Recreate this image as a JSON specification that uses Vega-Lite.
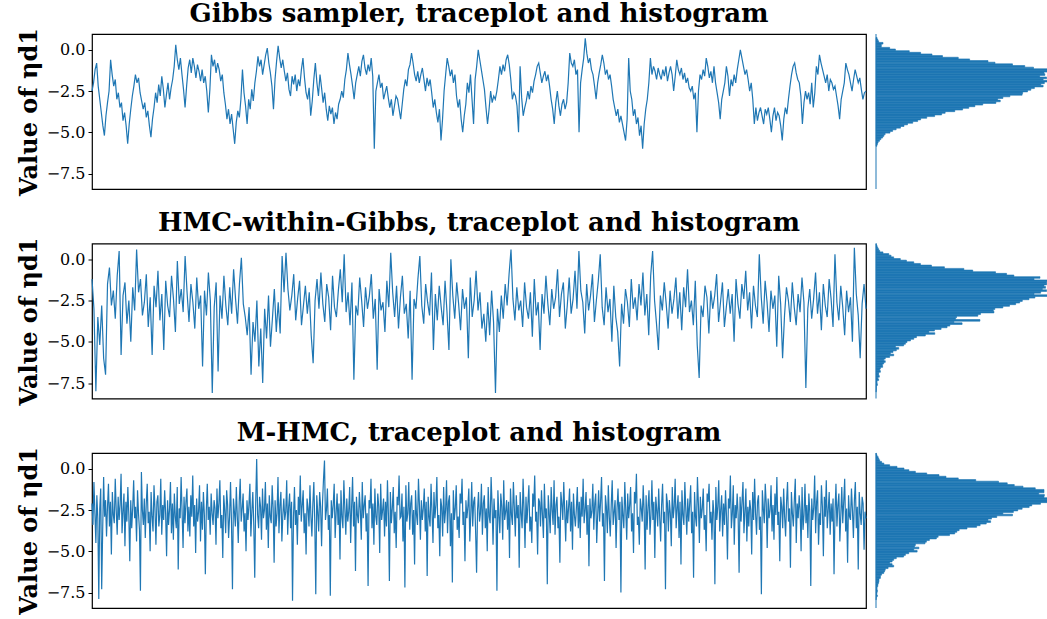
{
"$schema": "https://vega.github.io/schema/vega-lite/v6.json",
"background": "white",
"padding": {"left": 16, "top": 0, "right": 0, "bottom": 0},
"config": {
  "view": {"stroke": "black", "strokeWidth": 1.2},
  "axis": {"grid": false, "domain": false, "tickColor": "black", "tickSize": 4, "labelPadding": 3, "labelFont": "DejaVu Serif", "labelFontSize": 16, "labelColor": "black", "titleFont": "DejaVu Serif", "titleFontSize": 24, "titleFontWeight": "bold", "titleColor": "black", "titlePadding": 5},
  "title": {"font": "DejaVu Serif", "fontSize": 26, "fontWeight": "bold", "color": "black", "anchor": "middle", "baseline": "bottom", "offset": 1}
},
"spacing": 13.5,
"datasets": {
"gibbs": [
{"i":0,"v":-2.5},{"i":1,"v":-2.0},{"i":2,"v":-1.2},{"i":3,"v":-0.8},{"i":4,"v":-2.2},
{"i":5,"v":-3.0},{"i":6,"v":-3.8},{"i":7,"v":-4.6},{"i":8,"v":-5.2},{"i":9,"v":-4.0},{"i":10,"v":-3.2},{"i":11,"v":-2.5},
{"i":12,"v":-0.6},{"i":13,"v":-1.5},{"i":14,"v":-2.2},{"i":15,"v":-1.8},{"i":16,"v":-3.0},{"i":17,"v":-2.6},{"i":18,"v":-3.5},{"i":19,"v":-3.2},{"i":20,"v":-4.3},{"i":21,"v":-3.8},{"i":22,"v":-4.6},{"i":23,"v":-5.7},{"i":24,"v":-4.5},
{"i":25,"v":-3.6},{"i":26,"v":-2.8},{"i":27,"v":-2.2},{"i":28,"v":-1.5},{"i":29,"v":-2.0},{"i":30,"v":-1.7},{"i":31,"v":-2.6},
{"i":32,"v":-3.1},{"i":33,"v":-3.6},{"i":34,"v":-3.2},{"i":35,"v":-4.1},{"i":36,"v":-3.7},{"i":37,"v":-4.6},{"i":38,"v":-5.3},{"i":39,"v":-4.2},{"i":40,"v":-3.5},
{"i":41,"v":-2.6},{"i":42,"v":-3.2},{"i":43,"v":-2.1},{"i":44,"v":-2.8},{"i":45,"v":-1.6},{"i":46,"v":-2.4},{"i":47,"v":-3.5},{"i":48,"v":-2.7},{"i":49,"v":-2.0},{"i":50,"v":-3.0},{"i":51,"v":-2.3},{"i":52,"v":-1.8},{"i":53,"v":-1.0},
{"i":54,"v":0.3},{"i":55,"v":-0.6},{"i":56,"v":-1.2},{"i":57,"v":-0.5},{"i":58,"v":-1.5},{"i":59,"v":-2.4},{"i":60,"v":-3.5},{"i":61,"v":-2.2},{"i":62,"v":-1.1},{"i":63,"v":-0.6},{"i":64,"v":-1.4},{"i":65,"v":-0.5},{"i":66,"v":-1.0},{"i":67,"v":-1.7},{"i":68,"v":-0.9},{"i":69,"v":-1.3},
{"i":70,"v":-1.9},{"i":71,"v":-1.2},{"i":72,"v":-2.0},{"i":73,"v":-1.6},{"i":74,"v":-2.5},{"i":75,"v":-3.8},{"i":76,"v":-2.4},
{"i":77,"v":-0.3},{"i":78,"v":-1.0},{"i":79,"v":-0.6},{"i":80,"v":-1.4},{"i":81,"v":-0.8},{"i":82,"v":-1.2},{"i":83,"v":-1.9},{"i":84,"v":-1.5},{"i":85,"v":-2.6},{"i":86,"v":-3.3},
{"i":87,"v":-4.2},{"i":88,"v":-3.6},{"i":89,"v":-4.5},{"i":90,"v":-3.9},{"i":91,"v":-4.8},{"i":92,"v":-5.7},{"i":93,"v":-4.4},{"i":94,"v":-3.7},{"i":95,"v":-4.1},
{"i":96,"v":-3.0},{"i":97,"v":-1.2},{"i":98,"v":-2.6},{"i":99,"v":-3.4},{"i":100,"v":-4.5},{"i":101,"v":-3.0},{"i":102,"v":-3.6},{"i":103,"v":-2.4},{"i":104,"v":-3.1},{"i":105,"v":-2.0},
{"i":106,"v":-1.3},{"i":107,"v":-0.4},{"i":108,"v":-1.0},{"i":109,"v":-0.6},{"i":110,"v":-1.5},{"i":111,"v":-0.9},{"i":112,"v":-0.3},{"i":113,"v":0.1},{"i":114,"v":-0.8},{"i":115,"v":-1.4},{"i":116,"v":-2.2},{"i":117,"v":-3.6},{"i":118,"v":-1.8},{"i":119,"v":-0.7},{"i":120,"v":0.25},{"i":121,"v":-0.5},{"i":122,"v":-1.1},{"i":123,"v":-0.6},{"i":124,"v":-1.3},
{"i":125,"v":-1.9},{"i":126,"v":-1.4},{"i":127,"v":-2.4},{"i":128,"v":-2.8},{"i":129,"v":-1.6},{"i":130,"v":-2.1},{"i":131,"v":-1.5},{"i":132,"v":-2.5},{"i":133,"v":-1.8},{"i":134,"v":-2.2},
{"i":135,"v":-1.2},{"i":136,"v":-0.5},{"i":137,"v":-1.7},{"i":138,"v":-2.6},{"i":139,"v":-3.0},{"i":140,"v":-2.3},{"i":141,"v":-4.0},{"i":142,"v":-3.1},{"i":143,"v":-1.8},{"i":144,"v":-0.8},{"i":145,"v":-2.0},{"i":146,"v":-2.8},{"i":147,"v":-1.5},{"i":148,"v":-2.3},{"i":149,"v":-3.2},{"i":150,"v":-2.6},{"i":151,"v":-3.6},{"i":152,"v":-4.3},{"i":153,"v":-3.4},
{"i":154,"v":-3.9},{"i":155,"v":-3.5},{"i":156,"v":-4.5},{"i":157,"v":-3.8},{"i":158,"v":-4.2},{"i":159,"v":-3.3},{"i":160,"v":-3.0},{"i":161,"v":-2.5},{"i":162,"v":-2.9},{"i":163,"v":-1.8},
{"i":164,"v":-1.2},{"i":165,"v":-0.2},{"i":166,"v":-0.9},{"i":167,"v":-1.5},{"i":168,"v":-2.2},{"i":169,"v":-3.0},{"i":170,"v":-2.0},{"i":171,"v":-1.5},{"i":172,"v":-1.0},{"i":173,"v":-1.6},{"i":174,"v":-0.7},{"i":175,"v":-0.3},{"i":176,"v":-1.1},{"i":177,"v":-1.5},{"i":178,"v":-0.9},{"i":179,"v":-1.3},{"i":180,"v":-0.5},{"i":181,"v":-1.6},
{"i":182,"v":-6.0},
{"i":183,"v":-2.5},{"i":184,"v":-2.0},{"i":185,"v":-1.5},{"i":186,"v":-2.3},{"i":187,"v":-2.0},{"i":188,"v":-3.0},{"i":189,"v":-2.6},{"i":190,"v":-2.2},{"i":191,"v":-2.9},{"i":192,"v":-3.5},{"i":193,"v":-3.0},{"i":194,"v":-4.0},{"i":195,"v":-3.4},{"i":196,"v":-2.8},{"i":197,"v":-3.0},{"i":198,"v":-3.6},{"i":199,"v":-4.2},{"i":200,"v":-3.3},{"i":201,"v":-2.4},{"i":202,"v":-1.8},{"i":203,"v":-2.2},{"i":204,"v":-1.2},{"i":205,"v":-0.9},
{"i":206,"v":-0.2},{"i":207,"v":-0.8},{"i":208,"v":-1.5},{"i":209,"v":-1.9},{"i":210,"v":-1.3},{"i":211,"v":-2.0},{"i":212,"v":-1.5},{"i":213,"v":-1.1},{"i":214,"v":-1.8},{"i":215,"v":-2.5},{"i":216,"v":-1.7},{"i":217,"v":-2.2},{"i":218,"v":-1.8},
{"i":219,"v":-2.6},{"i":220,"v":-3.5},{"i":221,"v":-3.0},{"i":222,"v":-3.8},{"i":223,"v":-4.4},{"i":224,"v":-3.6},{"i":225,"v":-5.5},{"i":226,"v":-4.2},{"i":227,"v":-2.5},
{"i":228,"v":-1.5},{"i":229,"v":-0.5},{"i":230,"v":-1.0},{"i":231,"v":-1.6},{"i":232,"v":-1.2},{"i":233,"v":-2.0},{"i":234,"v":-1.5},
{"i":235,"v":-2.8},{"i":236,"v":-3.5},{"i":237,"v":-3.0},{"i":238,"v":-4.2},{"i":239,"v":-5.0},{"i":240,"v":-4.0},{"i":241,"v":-3.3},{"i":242,"v":-2.0},{"i":243,"v":-2.6},
{"i":244,"v":-1.5},{"i":245,"v":-3.0},{"i":246,"v":-4.5},{"i":247,"v":-1.8},{"i":248,"v":-1.0},{"i":249,"v":0.0},{"i":250,"v":-0.6},{"i":251,"v":-1.2},{"i":252,"v":-1.8},{"i":253,"v":-2.4},
{"i":254,"v":-3.5},{"i":255,"v":-4.5},{"i":256,"v":-3.6},{"i":257,"v":-2.5},{"i":258,"v":-3.2},{"i":259,"v":-2.8},{"i":260,"v":-3.0},{"i":261,"v":-2.5},{"i":262,"v":-1.8},{"i":263,"v":-1.0},
{"i":264,"v":-1.5},{"i":265,"v":-0.9},{"i":266,"v":-1.3},{"i":267,"v":-0.6},{"i":268,"v":-0.3},{"i":269,"v":-0.9},{"i":270,"v":-1.8},{"i":271,"v":-3.0},
{"i":272,"v":-2.6},{"i":273,"v":-2.8},{"i":274,"v":-3.4},{"i":275,"v":-5.0},{"i":276,"v":-1.0},{"i":277,"v":-2.9},{"i":278,"v":-4.0},{"i":279,"v":-3.5},{"i":280,"v":-3.1},{"i":281,"v":-2.5},{"i":282,"v":-3.0},{"i":283,"v":-2.2},{"i":284,"v":-2.6},{"i":285,"v":-1.9},
{"i":286,"v":-1.5},{"i":287,"v":-1.0},{"i":288,"v":-0.8},{"i":289,"v":-1.4},{"i":290,"v":-2.0},{"i":291,"v":-1.6},{"i":292,"v":-1.3},{"i":293,"v":-1.9},{"i":294,"v":-1.5},{"i":295,"v":-2.2},
{"i":296,"v":-3.0},{"i":297,"v":-3.6},{"i":298,"v":-4.5},{"i":299,"v":-3.2},{"i":300,"v":-2.5},{"i":301,"v":-3.4},{"i":302,"v":-4.0},{"i":303,"v":-3.3},{"i":304,"v":-3.0},{"i":305,"v":-3.6},{"i":306,"v":-3.2},{"i":307,"v":-2.0},
{"i":308,"v":-0.2},{"i":309,"v":-0.8},{"i":310,"v":-1.0},{"i":311,"v":-0.6},{"i":312,"v":-1.5},{"i":313,"v":-1.2},
{"i":314,"v":-5.0},
{"i":315,"v":-2.0},{"i":316,"v":-1.2},{"i":317,"v":-0.5},{"i":318,"v":0.7},{"i":319,"v":-0.2},{"i":320,"v":-0.8},{"i":321,"v":-0.5},{"i":322,"v":-1.2},{"i":323,"v":-1.5},{"i":324,"v":-2.2},{"i":325,"v":-3.0},{"i":326,"v":-2.0},{"i":327,"v":-1.4},{"i":328,"v":-0.9},{"i":329,"v":-0.3},{"i":330,"v":-0.8},{"i":331,"v":-1.5},{"i":332,"v":-1.2},{"i":333,"v":-1.8},{"i":334,"v":-1.5},{"i":335,"v":-2.2},
{"i":336,"v":-3.0},{"i":337,"v":-3.5},{"i":338,"v":-4.0},{"i":339,"v":-3.6},{"i":340,"v":-4.4},{"i":341,"v":-4.0},{"i":342,"v":-4.5},{"i":343,"v":-5.0},{"i":344,"v":-5.5},{"i":345,"v":-4.2},{"i":346,"v":-0.5},{"i":347,"v":-2.5},{"i":348,"v":-3.0},{"i":349,"v":-4.0},{"i":350,"v":-3.6},{"i":351,"v":-4.5},{"i":352,"v":-4.1},{"i":353,"v":-5.2},{"i":354,"v":-4.6},{"i":355,"v":-6.0},{"i":356,"v":-4.5},{"i":357,"v":-3.6},{"i":358,"v":-3.0},{"i":359,"v":-2.0},
{"i":360,"v":-0.5},{"i":361,"v":-1.5},{"i":362,"v":-1.0},{"i":363,"v":-1.3},{"i":364,"v":-1.8},{"i":365,"v":-1.1},{"i":366,"v":-1.5},{"i":367,"v":-1.8},{"i":368,"v":-1.2},{"i":369,"v":-1.6},{"i":370,"v":-1.0},{"i":371,"v":-1.9},{"i":372,"v":-1.4},{"i":373,"v":-1.0},{"i":374,"v":-1.5},{"i":375,"v":-2.5},{"i":376,"v":-1.6},{"i":377,"v":-0.6},{"i":378,"v":-1.2},{"i":379,"v":-1.5},{"i":380,"v":-1.1},{"i":381,"v":-1.8},{"i":382,"v":-1.4},{"i":383,"v":-2.0},{"i":384,"v":-1.7},{"i":385,"v":-2.3},
{"i":386,"v":-2.5},{"i":387,"v":-2.2},{"i":388,"v":-3.0},{"i":389,"v":-2.6},{"i":390,"v":-5.0},{"i":391,"v":-2.5},{"i":392,"v":-1.5},
{"i":393,"v":-1.8},{"i":394,"v":-1.2},{"i":395,"v":-1.6},{"i":396,"v":-0.5},{"i":397,"v":-1.0},{"i":398,"v":-1.7},{"i":399,"v":-1.3},{"i":400,"v":-2.0},{"i":401,"v":-1.0},
{"i":402,"v":-2.0},{"i":403,"v":-2.6},{"i":404,"v":-3.2},{"i":405,"v":-4.2},{"i":406,"v":-3.0},{"i":407,"v":-2.5},{"i":408,"v":-2.0},
{"i":409,"v":-1.0},{"i":410,"v":-1.6},{"i":411,"v":-2.8},{"i":412,"v":-1.8},{"i":413,"v":-2.2},{"i":414,"v":-1.5},{"i":415,"v":-2.0},{"i":416,"v":-1.2},{"i":417,"v":-0.6},{"i":418,"v":0.0},{"i":419,"v":-0.5},{"i":420,"v":-1.0},{"i":421,"v":-1.5},{"i":422,"v":-1.2},{"i":423,"v":-1.8},{"i":424,"v":-2.5},
{"i":425,"v":-2.0},{"i":426,"v":-3.0},{"i":427,"v":-4.5},{"i":428,"v":-3.5},{"i":429,"v":-4.3},{"i":430,"v":-3.8},{"i":431,"v":-3.5},{"i":432,"v":-4.0},{"i":433,"v":-4.5},{"i":434,"v":-3.6},{"i":435,"v":-3.9},{"i":436,"v":-3.5},{"i":437,"v":-4.2},{"i":438,"v":-5.0},{"i":439,"v":-4.0},{"i":440,"v":-3.5},{"i":441,"v":-4.3},{"i":442,"v":-3.8},{"i":443,"v":-4.0},{"i":444,"v":-4.6},{"i":445,"v":-5.5},{"i":446,"v":-4.2},{"i":447,"v":-3.5},{"i":448,"v":-3.9},{"i":449,"v":-3.0},{"i":450,"v":-2.2},
{"i":451,"v":-1.5},{"i":452,"v":-1.0},{"i":453,"v":-0.8},{"i":454,"v":-1.4},{"i":455,"v":-1.8},{"i":456,"v":-2.0},
{"i":457,"v":-2.8},{"i":458,"v":-4.5},{"i":459,"v":-3.2},{"i":460,"v":-2.5},{"i":461,"v":-3.0},{"i":462,"v":-2.6},{"i":463,"v":-3.3},{"i":464,"v":-2.0},{"i":465,"v":-3.5},{"i":466,"v":-2.6},
{"i":467,"v":-1.0},{"i":468,"v":-1.5},{"i":469,"v":-0.3},{"i":470,"v":-0.8},{"i":471,"v":-1.2},{"i":472,"v":-1.6},{"i":473,"v":-2.0},{"i":474,"v":-1.5},{"i":475,"v":-2.5},{"i":476,"v":-1.8},{"i":477,"v":-2.0},{"i":478,"v":-2.4},{"i":479,"v":-2.2},
{"i":480,"v":-2.8},{"i":481,"v":-3.4},{"i":482,"v":-4.2},{"i":483,"v":-3.0},{"i":484,"v":-2.5},{"i":485,"v":-2.0},
{"i":486,"v":-0.8},{"i":487,"v":-1.2},{"i":488,"v":-1.5},{"i":489,"v":-2.0},{"i":490,"v":-2.5},{"i":491,"v":-1.8},{"i":492,"v":-1.2},{"i":493,"v":-1.6},{"i":494,"v":-2.0},{"i":495,"v":-1.7},{"i":496,"v":-2.4},{"i":497,"v":-3.0},{"i":498,"v":-2.6},{"i":499,"v":-2.5}
],
"hwg": [
{"i":0,"v":-1.2},{"i":1,"v":-3.0},{"i":2,"v":-8.0},{"i":3,"v":-3.5},{"i":4,"v":-5.2},{"i":5,"v":-2.8},{"i":6,"v":-6.0},{"i":7,"v":-7.0},{"i":8,"v":-1.5},{"i":9,"v":-0.5},
{"i":10,"v":-2.8},{"i":11,"v":-1.9},{"i":12,"v":-3.6},{"i":13,"v":-1.0},{"i":14,"v":0.5},{"i":15,"v":-5.8},{"i":16,"v":-2.2},{"i":17,"v":-1.4},{"i":18,"v":-3.9},{"i":19,"v":-2.5},
{"i":20,"v":-5.0},{"i":21,"v":-1.7},{"i":22,"v":-3.1},{"i":23,"v":0.6},{"i":24,"v":-2.0},{"i":25,"v":-1.2},{"i":26,"v":-3.4},{"i":27,"v":-2.6},{"i":28,"v":-0.9},{"i":29,"v":-4.1},
{"i":30,"v":-2.3},{"i":31,"v":-5.8},{"i":32,"v":-1.6},{"i":33,"v":-2.9},{"i":34,"v":-0.7},{"i":35,"v":-3.7},{"i":36,"v":-2.1},{"i":37,"v":-5.5},{"i":38,"v":-1.3},{"i":39,"v":-2.8},
{"i":40,"v":-3.5},{"i":41,"v":-1.0},{"i":42,"v":-2.4},{"i":43,"v":-4.4},{"i":44,"v":-0.1},{"i":45,"v":-2.7},{"i":46,"v":-1.8},{"i":47,"v":-3.2},{"i":48,"v":0.2},{"i":49,"v":-2.0},
{"i":50,"v":-3.8},{"i":51,"v":-1.5},{"i":52,"v":-2.6},{"i":53,"v":-4.2},{"i":54,"v":-1.1},{"i":55,"v":-3.0},{"i":56,"v":-2.2},{"i":57,"v":-6.5},{"i":58,"v":-1.9},{"i":59,"v":-3.4},
{"i":60,"v":-0.8},{"i":61,"v":-2.5},{"i":62,"v":-8.1},{"i":63,"v":-2.9},{"i":64,"v":-1.4},{"i":65,"v":-6.8},{"i":66,"v":-2.2},{"i":67,"v":-3.6},{"i":68,"v":-1.0},{"i":69,"v":-2.8},
{"i":70,"v":-4.0},{"i":71,"v":-1.7},{"i":72,"v":-3.3},{"i":73,"v":-0.6},{"i":74,"v":-2.4},{"i":75,"v":-3.9},{"i":76,"v":-1.5},{"i":77,"v":0.1},{"i":78,"v":-2.7},{"i":79,"v":-3.5},
{"i":80,"v":-4.6},{"i":81,"v":-2.9},{"i":82,"v":-7.0},{"i":83,"v":-3.8},{"i":84,"v":-5.0},{"i":85,"v":-2.5},{"i":86,"v":-6.5},{"i":87,"v":-4.2},{"i":88,"v":-7.5},{"i":89,"v":-3.0},
{"i":90,"v":-4.8},{"i":91,"v":-2.2},{"i":92,"v":-5.3},{"i":93,"v":-3.6},{"i":94,"v":-1.8},{"i":95,"v":-4.4},{"i":96,"v":-2.6},{"i":97,"v":-4.5},{"i":98,"v":0.2},{"i":99,"v":-2.0},
{"i":100,"v":0.4},{"i":101,"v":-1.8},{"i":102,"v":-3.1},{"i":103,"v":-2.2},{"i":104,"v":-0.9},{"i":105,"v":-3.7},{"i":106,"v":-2.4},{"i":107,"v":-1.3},{"i":108,"v":-4.0},{"i":109,"v":-2.8},
{"i":110,"v":-1.6},{"i":111,"v":-3.3},{"i":112,"v":-2.0},{"i":113,"v":-4.6},{"i":114,"v":-6.3},{"i":115,"v":-2.5},{"i":116,"v":-1.2},{"i":117,"v":-3.0},{"i":118,"v":-0.8},{"i":119,"v":-2.7},
{"i":120,"v":-3.8},{"i":121,"v":-1.5},{"i":122,"v":-2.3},{"i":123,"v":-4.3},{"i":124,"v":-1.0},{"i":125,"v":-2.9},{"i":126,"v":-3.5},{"i":127,"v":-1.9},{"i":128,"v":-0.6},{"i":129,"v":-2.6},
{"i":130,"v":0.3},{"i":131,"v":-3.2},{"i":132,"v":-2.0},{"i":133,"v":-4.0},{"i":134,"v":-1.4},{"i":135,"v":-7.3},{"i":136,"v":-2.8},{"i":137,"v":-3.4},{"i":138,"v":-1.1},{"i":139,"v":-2.5},
{"i":140,"v":-4.1},{"i":141,"v":-1.7},{"i":142,"v":-3.0},{"i":143,"v":-2.2},{"i":144,"v":-0.9},{"i":145,"v":-3.6},{"i":146,"v":-2.4},{"i":147,"v":-6.7},{"i":148,"v":-1.8},{"i":149,"v":-3.1},
{"i":150,"v":-2.6},{"i":151,"v":-4.4},{"i":152,"v":-1.3},{"i":153,"v":-2.9},{"i":154,"v":0.4},{"i":155,"v":-2.0},{"i":156,"v":-3.5},{"i":157,"v":-1.6},{"i":158,"v":-4.2},{"i":159,"v":-2.3},
{"i":160,"v":-1.0},{"i":161,"v":-3.3},{"i":162,"v":-2.7},{"i":163,"v":-4.8},{"i":164,"v":-1.9},{"i":165,"v":-7.3},{"i":166,"v":-2.4},{"i":167,"v":-3.0},{"i":168,"v":-1.2},{"i":169,"v":0.2},
{"i":170,"v":-2.8},{"i":171,"v":-3.9},{"i":172,"v":-1.5},{"i":173,"v":-2.6},{"i":174,"v":-3.4},{"i":175,"v":-0.8},{"i":176,"v":-5.5},{"i":177,"v":-2.1},{"i":178,"v":-3.7},{"i":179,"v":-1.6},
{"i":180,"v":-2.9},{"i":181,"v":-4.0},{"i":182,"v":-1.3},{"i":183,"v":-3.2},{"i":184,"v":-5.5},{"i":185,"v":0.0},{"i":186,"v":-2.2},{"i":187,"v":-3.6},{"i":188,"v":-1.4},{"i":189,"v":-2.7},
{"i":190,"v":-4.3},{"i":191,"v":-1.8},{"i":192,"v":-3.0},{"i":193,"v":-2.3},{"i":194,"v":-6.0},{"i":195,"v":-1.1},{"i":196,"v":-3.5},{"i":197,"v":-2.5},{"i":198,"v":-0.7},{"i":199,"v":-3.1},
{"i":200,"v":-2.0},{"i":201,"v":-4.2},{"i":202,"v":-3.3},{"i":203,"v":-5.0},{"i":204,"v":-2.6},{"i":205,"v":-4.6},{"i":206,"v":-1.9},{"i":207,"v":-3.8},{"i":208,"v":-8.1},{"i":209,"v":-3.0},
{"i":210,"v":-4.4},{"i":211,"v":-2.2},{"i":212,"v":-3.6},{"i":213,"v":-1.5},{"i":214,"v":-2.8},{"i":215,"v":-0.9},{"i":216,"v":0.6},{"i":217,"v":-2.4},{"i":218,"v":-3.7},{"i":219,"v":-1.7},
{"i":220,"v":-3.1},{"i":221,"v":-2.5},{"i":222,"v":-4.1},{"i":223,"v":-1.4},{"i":224,"v":-2.9},{"i":225,"v":-3.6},{"i":226,"v":-2.0},{"i":227,"v":-4.7},{"i":228,"v":-1.2},{"i":229,"v":-3.4},
{"i":230,"v":-2.6},{"i":231,"v":-5.5},{"i":232,"v":-2.1},{"i":233,"v":-3.3},{"i":234,"v":-1.0},{"i":235,"v":-2.7},{"i":236,"v":-4.0},{"i":237,"v":-1.8},{"i":238,"v":-3.0},{"i":239,"v":-2.3},
{"i":240,"v":-0.6},{"i":241,"v":-3.5},{"i":242,"v":-2.1},{"i":243,"v":-1.4},{"i":244,"v":-4.2},{"i":245,"v":-2.8},{"i":246,"v":-1.1},{"i":247,"v":-3.3},{"i":248,"v":-2.4},{"i":249,"v":-0.7},
{"i":250,"v":-3.0},{"i":251,"v":0.5},{"i":252,"v":-1.9},{"i":253,"v":-2.6},{"i":254,"v":-4.5},{"i":255,"v":-1.5},{"i":256,"v":-3.1},{"i":257,"v":-2.2},{"i":258,"v":-0.9},{"i":259,"v":-3.8},
{"i":260,"v":-2.5},{"i":261,"v":-1.3},{"i":262,"v":0.3},{"i":263,"v":-2.9},{"i":264,"v":-4.0},{"i":265,"v":-1.7},{"i":266,"v":-3.2},{"i":267,"v":-2.4},{"i":268,"v":-5.0},{"i":269,"v":-1.6},
{"i":270,"v":-3.5},{"i":271,"v":-4.4},{"i":272,"v":-6.5},{"i":273,"v":-2.7},{"i":274,"v":-3.9},{"i":275,"v":-1.8},{"i":276,"v":-2.6},{"i":277,"v":-4.1},{"i":278,"v":-1.2},{"i":279,"v":-3.0},
{"i":280,"v":-2.3},{"i":281,"v":-3.7},{"i":282,"v":-1.5},{"i":283,"v":-2.8},{"i":284,"v":-0.8},{"i":285,"v":-3.4},{"i":286,"v":-2.1},{"i":287,"v":-4.6},{"i":288,"v":-1.0},{"i":289,"v":0.5},
{"i":290,"v":-2.5},{"i":291,"v":-3.9},{"i":292,"v":-5.5},{"i":293,"v":-2.2},{"i":294,"v":-3.1},{"i":295,"v":-1.4},{"i":296,"v":-2.7},{"i":297,"v":-4.2},{"i":298,"v":-1.9},{"i":299,"v":-3.3},
{"i":300,"v":-2.4},{"i":301,"v":-1.1},{"i":302,"v":-3.6},{"i":303,"v":-2.0},{"i":304,"v":-4.3},{"i":305,"v":-1.7},{"i":306,"v":-2.9},{"i":307,"v":-0.6},{"i":308,"v":-3.2},{"i":309,"v":-2.5},
{"i":310,"v":-4.0},{"i":311,"v":-1.3},{"i":312,"v":-5.2},{"i":313,"v":-7.2},{"i":314,"v":-2.8},{"i":315,"v":-3.5},{"i":316,"v":-1.6},{"i":317,"v":-2.3},{"i":318,"v":-4.5},{"i":319,"v":-1.9},
{"i":320,"v":-3.0},{"i":321,"v":-2.2},{"i":322,"v":-0.9},{"i":323,"v":-3.8},{"i":324,"v":-2.6},{"i":325,"v":-1.4},{"i":326,"v":-4.1},{"i":327,"v":-2.9},{"i":328,"v":-1.8},{"i":329,"v":-3.3},
{"i":330,"v":-2.1},{"i":331,"v":-5.0},{"i":332,"v":-1.2},{"i":333,"v":-2.7},{"i":334,"v":-3.6},{"i":335,"v":-1.5},{"i":336,"v":-2.4},{"i":337,"v":-0.7},{"i":338,"v":-3.1},{"i":339,"v":-2.0},
{"i":340,"v":-4.2},{"i":341,"v":-1.6},{"i":342,"v":-2.8},{"i":343,"v":-3.5},{"i":344,"v":0.3},{"i":345,"v":-2.3},{"i":346,"v":-3.9},{"i":347,"v":-1.3},{"i":348,"v":-2.6},{"i":349,"v":-4.4},
{"i":350,"v":-1.9},{"i":351,"v":-3.0},{"i":352,"v":-2.2},{"i":353,"v":-5.3},{"i":354,"v":-1.0},{"i":355,"v":-2.7},{"i":356,"v":-6.0},{"i":357,"v":-3.4},{"i":358,"v":-1.7},{"i":359,"v":-2.5},
{"i":360,"v":-3.8},{"i":361,"v":-1.4},{"i":362,"v":-2.9},{"i":363,"v":-4.0},{"i":364,"v":-2.1},{"i":365,"v":-3.2},{"i":366,"v":-1.1},{"i":367,"v":-2.6},{"i":368,"v":-7.8},{"i":369,"v":-3.0},
{"i":370,"v":-1.8},{"i":371,"v":-3.6},{"i":372,"v":-2.4},{"i":373,"v":-0.8},{"i":374,"v":-3.3},{"i":375,"v":-2.0},{"i":376,"v":-4.3},{"i":377,"v":-1.5},{"i":378,"v":-2.8},{"i":379,"v":-3.5},
{"i":380,"v":-1.2},{"i":381,"v":-2.4},{"i":382,"v":-4.1},{"i":383,"v":0.3},{"i":384,"v":-2.6},{"i":385,"v":-3.7},{"i":386,"v":-1.6},{"i":387,"v":-2.9},{"i":388,"v":-4.6},{"i":389,"v":-1.9},
{"i":390,"v":-3.2},{"i":391,"v":-2.3},{"i":392,"v":-5.0},{"i":393,"v":0.7},{"i":394,"v":-2.1},{"i":395,"v":-3.4},{"i":396,"v":-6.0},{"i":397,"v":-2.7},{"i":398,"v":-1.5},{"i":399,"v":-3.0}
],
"mhmc": [
{"i":0,"v":-2.1},{"i":1,"v":-3.4},{"i":2,"v":-0.8},{"i":3,"v":-2.7},{"i":4,"v":-4.5},{"i":5,"v":-1.6},{"i":6,"v":-3.0},{"i":7,"v":-7.9},{"i":8,"v":-2.4},{"i":9,"v":-1.2},
{"i":10,"v":-7.3},{"i":11,"v":-3.8},{"i":12,"v":-0.5},{"i":13,"v":-2.9},{"i":14,"v":-1.9},{"i":15,"v":-4.1},{"i":16,"v":-2.3},{"i":17,"v":-0.9},{"i":18,"v":-3.5},{"i":19,"v":-2.0},
{"i":20,"v":-5.2},{"i":21,"v":-1.4},{"i":22,"v":-2.8},{"i":23,"v":-3.3},{"i":24,"v":-0.6},{"i":25,"v":-2.5},{"i":26,"v":-4.0},{"i":27,"v":-1.7},{"i":28,"v":-3.1},{"i":29,"v":-2.2},
{"i":30,"v":-0.3},{"i":31,"v":-3.9},{"i":32,"v":-2.6},{"i":33,"v":-1.5},{"i":34,"v":-4.7},{"i":35,"v":-2.0},{"i":36,"v":-3.2},{"i":37,"v":-1.1},{"i":38,"v":-2.8},{"i":39,"v":-5.6},
{"i":40,"v":-1.9},{"i":41,"v":-3.6},{"i":42,"v":-2.4},{"i":43,"v":-0.7},{"i":44,"v":-3.0},{"i":45,"v":-2.3},{"i":46,"v":-4.4},{"i":47,"v":-1.3},{"i":48,"v":-2.7},{"i":49,"v":-3.7},
{"i":50,"v":-7.4},{"i":51,"v":-0.2},{"i":52,"v":-2.5},{"i":53,"v":-3.4},{"i":54,"v":-1.8},{"i":55,"v":-4.2},{"i":56,"v":-2.1},{"i":57,"v":-0.9},{"i":58,"v":-3.3},{"i":59,"v":-2.6},
{"i":60,"v":-5.0},{"i":61,"v":-1.4},{"i":62,"v":-2.9},{"i":63,"v":-3.8},{"i":64,"v":-1.0},{"i":65,"v":-2.4},{"i":66,"v":-4.6},{"i":67,"v":-2.0},{"i":68,"v":-1.6},{"i":69,"v":-3.5},
{"i":70,"v":-2.8},{"i":71,"v":-0.6},{"i":72,"v":-4.0},{"i":73,"v":-2.2},{"i":74,"v":-3.1},{"i":75,"v":-1.3},{"i":76,"v":-2.7},{"i":77,"v":-5.3},{"i":78,"v":-1.9},{"i":79,"v":-3.4},
{"i":80,"v":-2.5},{"i":81,"v":-0.8},{"i":82,"v":-3.9},{"i":83,"v":-2.1},{"i":84,"v":-4.3},{"i":85,"v":-1.5},{"i":86,"v":-2.9},{"i":87,"v":-3.6},{"i":88,"v":-1.1},{"i":89,"v":-6.1},
{"i":90,"v":-2.4},{"i":91,"v":-3.0},{"i":92,"v":-0.5},{"i":93,"v":-2.6},{"i":94,"v":-4.8},{"i":95,"v":-1.7},{"i":96,"v":-3.3},{"i":97,"v":-2.0},{"i":98,"v":-1.2},{"i":99,"v":-3.8},
{"i":100,"v":-2.3},{"i":101,"v":-4.1},{"i":102,"v":-1.6},{"i":103,"v":-2.9},{"i":104,"v":-0.4},{"i":105,"v":-3.5},{"i":106,"v":-2.2},{"i":107,"v":-5.1},{"i":108,"v":-1.8},{"i":109,"v":-3.2},
{"i":110,"v":-2.6},{"i":111,"v":-1.0},{"i":112,"v":-4.4},{"i":113,"v":-2.0},{"i":114,"v":-3.7},{"i":115,"v":-1.4},{"i":116,"v":-2.8},{"i":117,"v":-6.4},{"i":118,"v":-2.5},{"i":119,"v":-0.9},
{"i":120,"v":-3.1},{"i":121,"v":-2.3},{"i":122,"v":-4.0},{"i":123,"v":-1.5},{"i":124,"v":-2.7},{"i":125,"v":-3.4},{"i":126,"v":-1.9},{"i":127,"v":-2.4},{"i":128,"v":-4.6},{"i":129,"v":-1.2},
{"i":130,"v":-3.0},{"i":131,"v":-2.1},{"i":132,"v":-0.7},{"i":133,"v":-3.6},{"i":134,"v":-2.8},{"i":135,"v":-5.4},{"i":136,"v":-1.6},{"i":137,"v":-2.5},{"i":138,"v":-3.9},{"i":139,"v":-1.3},
{"i":140,"v":-2.2},{"i":141,"v":-4.2},{"i":142,"v":-2.9},{"i":143,"v":-0.8},{"i":144,"v":-3.3},{"i":145,"v":-7.3},{"i":146,"v":-1.8},{"i":147,"v":-2.6},{"i":148,"v":-3.5},{"i":149,"v":-1.1},
{"i":150,"v":-2.9},{"i":151,"v":-4.5},{"i":152,"v":-2.0},{"i":153,"v":-0.6},{"i":154,"v":-3.2},{"i":155,"v":-2.4},{"i":156,"v":-1.5},{"i":157,"v":-3.8},{"i":158,"v":-2.7},{"i":159,"v":-5.0},
{"i":160,"v":-1.9},{"i":161,"v":-3.1},{"i":162,"v":-2.2},{"i":163,"v":-0.9},{"i":164,"v":-4.1},{"i":165,"v":-2.6},{"i":166,"v":-1.4},{"i":167,"v":-3.4},{"i":168,"v":-6.6},{"i":169,"v":-2.0},
{"i":170,"v":0.6},{"i":171,"v":-2.8},{"i":172,"v":-3.6},{"i":173,"v":-1.7},{"i":174,"v":-2.3},{"i":175,"v":-4.3},{"i":176,"v":-1.2},{"i":177,"v":-3.0},{"i":178,"v":-2.5},{"i":179,"v":-0.8},
{"i":180,"v":-3.7},{"i":181,"v":-2.1},{"i":182,"v":-4.8},{"i":183,"v":-1.6},{"i":184,"v":-2.9},{"i":185,"v":-3.3},{"i":186,"v":-1.0},{"i":187,"v":-2.4},{"i":188,"v":-5.7},{"i":189,"v":-1.9},
{"i":190,"v":-3.5},{"i":191,"v":-2.7},{"i":192,"v":-0.5},{"i":193,"v":-3.9},{"i":194,"v":-2.2},{"i":195,"v":-1.4},{"i":196,"v":-4.4},{"i":197,"v":-2.8},{"i":198,"v":-1.8},{"i":199,"v":-3.1},
{"i":200,"v":-2.6},{"i":201,"v":-0.7},{"i":202,"v":-4.0},{"i":203,"v":-2.3},{"i":204,"v":-1.5},{"i":205,"v":-3.6},{"i":206,"v":-2.0},{"i":207,"v":-8.0},{"i":208,"v":-2.9},{"i":209,"v":-1.1},
{"i":210,"v":-3.4},{"i":211,"v":-2.5},{"i":212,"v":-4.6},{"i":213,"v":-1.7},{"i":214,"v":-2.8},{"i":215,"v":-0.4},{"i":216,"v":-3.2},{"i":217,"v":-2.2},{"i":218,"v":-1.3},{"i":219,"v":-3.9},
{"i":220,"v":-2.7},{"i":221,"v":-5.2},{"i":222,"v":-1.8},{"i":223,"v":-2.4},{"i":224,"v":-3.5},{"i":225,"v":-1.0},{"i":226,"v":-2.9},{"i":227,"v":-4.1},{"i":228,"v":-2.1},{"i":229,"v":-0.8},
{"i":230,"v":-3.3},{"i":231,"v":-7.6},{"i":232,"v":-1.6},{"i":233,"v":-2.6},{"i":234,"v":-3.8},{"i":235,"v":-1.4},{"i":236,"v":-2.3},{"i":237,"v":-4.7},{"i":238,"v":-2.0},{"i":239,"v":-0.6},
{"i":240,"v":0.5},{"i":241,"v":-3.1},{"i":242,"v":-2.5},{"i":243,"v":-1.2},{"i":244,"v":-3.7},{"i":245,"v":-2.8},{"i":246,"v":-7.7},{"i":247,"v":-1.9},{"i":248,"v":-3.0},{"i":249,"v":-2.2},
{"i":250,"v":-0.9},{"i":251,"v":-4.2},{"i":252,"v":-2.7},{"i":253,"v":-1.5},{"i":254,"v":-3.4},{"i":255,"v":-2.1},{"i":256,"v":-5.5},{"i":257,"v":-1.3},{"i":258,"v":-2.9},{"i":259,"v":-3.6},
{"i":260,"v":-0.7},{"i":261,"v":-2.4},{"i":262,"v":-4.0},{"i":263,"v":-1.8},{"i":264,"v":-3.2},{"i":265,"v":-2.6},{"i":266,"v":-1.1},{"i":267,"v":-4.5},{"i":268,"v":-2.3},{"i":269,"v":-0.5},
{"i":270,"v":-3.5},{"i":271,"v":-2.0},{"i":272,"v":-6.2},{"i":273,"v":-1.7},{"i":274,"v":-2.8},{"i":275,"v":-3.3},{"i":276,"v":-1.4},{"i":277,"v":-2.5},{"i":278,"v":-4.3},{"i":279,"v":-0.8},
{"i":280,"v":-3.0},{"i":281,"v":-2.2},{"i":282,"v":-1.6},{"i":283,"v":-3.8},{"i":284,"v":-2.7},{"i":285,"v":-7.1},{"i":286,"v":-1.9},{"i":287,"v":-2.4},{"i":288,"v":-0.6},{"i":289,"v":-3.6},
{"i":290,"v":-2.1},{"i":291,"v":-4.6},{"i":292,"v":-1.2},{"i":293,"v":-2.9},{"i":294,"v":-3.4},{"i":295,"v":-1.5},{"i":296,"v":-2.3},{"i":297,"v":-5.1},{"i":298,"v":-0.9},{"i":299,"v":-3.1},
{"i":300,"v":-2.5},{"i":301,"v":-1.8},{"i":302,"v":-4.1},{"i":303,"v":-2.0},{"i":304,"v":-3.5},{"i":305,"v":-0.7},{"i":306,"v":-2.8},{"i":307,"v":-6.8},{"i":308,"v":-1.4},{"i":309,"v":-3.3},
{"i":310,"v":-2.4},{"i":311,"v":-1.1},{"i":312,"v":-3.9},{"i":313,"v":-2.6},{"i":314,"v":-4.8},{"i":315,"v":-1.7},{"i":316,"v":-2.2},{"i":317,"v":-0.4},{"i":318,"v":-3.0},{"i":319,"v":-2.9},
{"i":320,"v":-1.5},{"i":321,"v":-4.4},{"i":322,"v":-2.3},{"i":323,"v":-7.2},{"i":324,"v":-1.0},{"i":325,"v":-3.2},{"i":326,"v":-2.7},{"i":327,"v":-0.8},{"i":328,"v":-3.7},{"i":329,"v":-2.1},
{"i":330,"v":-1.6},{"i":331,"v":-4.0},{"i":332,"v":-2.5},{"i":333,"v":-5.8},{"i":334,"v":-1.3},{"i":335,"v":-2.8},{"i":336,"v":-3.4},{"i":337,"v":-0.6},{"i":338,"v":-2.2},{"i":339,"v":-4.3},
{"i":340,"v":-1.9},{"i":341,"v":-3.1},{"i":342,"v":-2.4},{"i":343,"v":-1.2},{"i":344,"v":-3.8},{"i":345,"v":-2.0},{"i":346,"v":-6.5},{"i":347,"v":-1.7},{"i":348,"v":-2.9},{"i":349,"v":-3.5},
{"i":350,"v":-0.9},{"i":351,"v":-2.6},{"i":352,"v":-4.5},{"i":353,"v":-1.4},{"i":354,"v":-3.0},{"i":355,"v":-2.2},{"i":356,"v":-0.5},{"i":357,"v":-3.6},{"i":358,"v":-2.8},{"i":359,"v":-5.3},
{"i":360,"v":-1.8},{"i":361,"v":-2.3},{"i":362,"v":-4.1},{"i":363,"v":-1.1},{"i":364,"v":-3.3},{"i":365,"v":-2.5},{"i":366,"v":-0.7},{"i":367,"v":-3.9},{"i":368,"v":-2.0},{"i":369,"v":-1.6},
{"i":370,"v":-4.7},{"i":371,"v":-2.7},{"i":372,"v":-6.9},{"i":373,"v":-1.3},{"i":374,"v":-3.1},{"i":375,"v":-2.4},{"i":376,"v":-1.0},{"i":377,"v":-3.7},{"i":378,"v":-2.9},{"i":379,"v":-4.2},
{"i":380,"v":-1.5},{"i":381,"v":-2.1},{"i":382,"v":-0.6},{"i":383,"v":-3.4},{"i":384,"v":-2.6},{"i":385,"v":-5.6},{"i":386,"v":-1.9},{"i":387,"v":-3.0},{"i":388,"v":-2.3},{"i":389,"v":-1.2},
{"i":390,"v":-4.4},{"i":391,"v":-2.8},{"i":392,"v":-0.8},{"i":393,"v":-3.5},{"i":394,"v":-2.0},{"i":395,"v":-1.7},{"i":396,"v":-3.8},{"i":397,"v":-6.3},{"i":398,"v":-2.5},{"i":399,"v":-1.4},
{"i":400,"v":-3.2},{"i":401,"v":-2.7},{"i":402,"v":-0.9},{"i":403,"v":-4.0},{"i":404,"v":-2.1},{"i":405,"v":-1.6},{"i":406,"v":-3.6},{"i":407,"v":-2.4},{"i":408,"v":-5.0},{"i":409,"v":-1.1},
{"i":410,"v":-2.9},{"i":411,"v":-3.3},{"i":412,"v":-0.5},{"i":413,"v":-2.2},{"i":414,"v":-4.6},{"i":415,"v":-1.8},{"i":416,"v":-3.0},{"i":417,"v":-2.5},{"i":418,"v":-7.4},{"i":419,"v":-1.3},
{"i":420,"v":-2.8},{"i":421,"v":-3.9},{"i":422,"v":-1.5},{"i":423,"v":-2.3},{"i":424,"v":-4.3},{"i":425,"v":-0.7},{"i":426,"v":-3.1},{"i":427,"v":-2.6},{"i":428,"v":-1.9},{"i":429,"v":-3.7},
{"i":430,"v":-2.0},{"i":431,"v":-5.4},{"i":432,"v":-1.2},{"i":433,"v":-2.8},{"i":434,"v":-3.4},{"i":435,"v":-0.8},{"i":436,"v":-2.4},{"i":437,"v":-4.1},{"i":438,"v":-1.6},{"i":439,"v":-3.0},
{"i":440,"v":-2.2},{"i":441,"v":-6.0},{"i":442,"v":-1.4},{"i":443,"v":-2.7},{"i":444,"v":-3.6},{"i":445,"v":-0.6},{"i":446,"v":-2.5},{"i":447,"v":-4.8},{"i":448,"v":-1.7},{"i":449,"v":-3.3},
{"i":450,"v":-2.1},{"i":451,"v":-1.0},{"i":452,"v":-3.8},{"i":453,"v":-2.9},{"i":454,"v":-4.5},{"i":455,"v":-1.5},{"i":456,"v":-2.3},{"i":457,"v":-0.4},{"i":458,"v":-3.2},{"i":459,"v":-2.6},
{"i":460,"v":-5.2},{"i":461,"v":-1.8},{"i":462,"v":-2.0},{"i":463,"v":-3.5},{"i":464,"v":-1.3},{"i":465,"v":-2.8},{"i":466,"v":-4.2},{"i":467,"v":-0.9},{"i":468,"v":-3.0},{"i":469,"v":-2.4},
{"i":470,"v":-7.0},{"i":471,"v":-1.6},{"i":472,"v":-2.7},{"i":473,"v":-3.9},{"i":474,"v":-1.1},{"i":475,"v":-2.5},{"i":476,"v":-3.4},{"i":477,"v":-0.7},{"i":478,"v":-4.0},{"i":479,"v":-2.2},
{"i":480,"v":-1.7},{"i":481,"v":-3.6},{"i":482,"v":-2.9},{"i":483,"v":-5.7},{"i":484,"v":-1.4},{"i":485,"v":-2.1},{"i":486,"v":-3.1},{"i":487,"v":-0.8},{"i":488,"v":-2.6},{"i":489,"v":-4.4},
{"i":490,"v":-1.9},{"i":491,"v":-3.3},{"i":492,"v":-2.3},{"i":493,"v":-1.2},{"i":494,"v":-3.8},{"i":495,"v":-2.0},{"i":496,"v":-4.9},{"i":497,"v":-1.5},{"i":498,"v":-2.8},{"i":499,"v":-3.5},
{"i":500,"v":-2.4},{"i":501,"v":-1.1},{"i":502,"v":-3.6},{"i":503,"v":-2.0},{"i":504,"v":-4.2},{"i":505,"v":-1.7},{"i":506,"v":-2.9},{"i":507,"v":-0.6},{"i":508,"v":-3.3},{"i":509,"v":-2.5},
{"i":510,"v":-1.4},{"i":511,"v":-4.0},{"i":512,"v":-2.2},{"i":513,"v":-5.9},{"i":514,"v":-1.8},{"i":515,"v":-3.0},{"i":516,"v":-2.6},{"i":517,"v":-0.9},{"i":518,"v":-3.7},{"i":519,"v":-2.1},
{"i":520,"v":-1.5},{"i":521,"v":-4.5},{"i":522,"v":-2.8},{"i":523,"v":-1.3},{"i":524,"v":-3.2},{"i":525,"v":-2.0},{"i":526,"v":-0.5},{"i":527,"v":-3.5},{"i":528,"v":-2.7},{"i":529,"v":-6.8},
{"i":530,"v":-1.6},{"i":531,"v":-2.3},{"i":532,"v":-3.9},{"i":533,"v":-1.0},{"i":534,"v":-2.9},{"i":535,"v":-4.1},{"i":536,"v":-2.2},{"i":537,"v":-0.7},{"i":538,"v":-3.4},{"i":539,"v":-2.6},
{"i":540,"v":-1.9},{"i":541,"v":-4.8},{"i":542,"v":-2.4},{"i":543,"v":-1.2},{"i":544,"v":-3.1},{"i":545,"v":-2.0},{"i":546,"v":-7.5},{"i":547,"v":-1.7},{"i":548,"v":-2.8},{"i":549,"v":-3.6},
{"i":550,"v":-0.8},{"i":551,"v":-2.5},{"i":552,"v":-4.3},{"i":553,"v":-1.5},{"i":554,"v":-3.0},{"i":555,"v":-2.2},{"i":556,"v":-1.1},{"i":557,"v":-3.8},{"i":558,"v":-2.7},{"i":559,"v":-5.1},
{"i":560,"v":-1.4},{"i":561,"v":-2.1},{"i":562,"v":-0.3},{"i":563,"v":-3.4},{"i":564,"v":-2.9},{"i":565,"v":-4.6},{"i":566,"v":-1.8},{"i":567,"v":-2.4},{"i":568,"v":-3.2},{"i":569,"v":-1.0},
{"i":570,"v":-2.6},{"i":571,"v":-6.1},{"i":572,"v":-1.6},{"i":573,"v":-3.7},{"i":574,"v":-2.3},{"i":575,"v":-1.3},{"i":576,"v":-4.0},{"i":577,"v":-2.8},{"i":578,"v":-0.7},{"i":579,"v":-3.1},
{"i":580,"v":-2.0},{"i":581,"v":-5.4},{"i":582,"v":-1.7},{"i":583,"v":-2.5},{"i":584,"v":-3.5},{"i":585,"v":-1.2},{"i":586,"v":-2.9},{"i":587,"v":-4.4},{"i":588,"v":-2.2},{"i":589,"v":-0.9},
{"i":590,"v":-3.3},{"i":591,"v":-2.6},{"i":592,"v":-7.3},{"i":593,"v":-1.5},{"i":594,"v":-2.1},{"i":595,"v":-3.8},{"i":596,"v":-1.9},{"i":597,"v":-2.7},{"i":598,"v":-4.7},{"i":599,"v":-1.1},
{"i":600,"v":-3.0},{"i":601,"v":-2.3},{"i":602,"v":-0.6},{"i":603,"v":-3.6},{"i":604,"v":-2.4},{"i":605,"v":-1.6},{"i":606,"v":-4.2},{"i":607,"v":-2.0},{"i":608,"v":-5.8},{"i":609,"v":-1.3},
{"i":610,"v":-2.8},{"i":611,"v":-3.4},{"i":612,"v":-0.8},{"i":613,"v":-2.5},{"i":614,"v":-4.0},{"i":615,"v":-1.8},{"i":616,"v":-3.2},{"i":617,"v":-2.1},{"i":618,"v":-1.0},{"i":619,"v":-3.9},
{"i":620,"v":-2.6},{"i":621,"v":-6.6},{"i":622,"v":-1.4},{"i":623,"v":-2.9},{"i":624,"v":-3.5},{"i":625,"v":-0.5},{"i":626,"v":-2.2},{"i":627,"v":-4.5},{"i":628,"v":-1.7},{"i":629,"v":-3.0},
{"i":630,"v":-2.4},{"i":631,"v":-1.2},{"i":632,"v":-3.7},{"i":633,"v":-2.8},{"i":634,"v":-5.0},{"i":635,"v":-1.5},{"i":636,"v":-2.0},{"i":637,"v":-0.9},{"i":638,"v":-3.3},{"i":639,"v":-2.6},
{"i":640,"v":-4.3},{"i":641,"v":-1.9},{"i":642,"v":-2.7},{"i":643,"v":-7.0},{"i":644,"v":-1.1},{"i":645,"v":-3.1},{"i":646,"v":-2.3},{"i":647,"v":-0.7},{"i":648,"v":-3.8},{"i":649,"v":-2.5},
{"i":650,"v":-1.6},{"i":651,"v":-4.1},{"i":652,"v":-2.1},{"i":653,"v":-3.4},{"i":654,"v":-1.3},{"i":655,"v":-2.9},{"i":656,"v":-5.5},{"i":657,"v":-1.8},{"i":658,"v":-2.4},{"i":659,"v":-0.4},
{"i":660,"v":-3.6},{"i":661,"v":-2.7},{"i":662,"v":-1.0},{"i":663,"v":-4.6},{"i":664,"v":-2.2},{"i":665,"v":-3.0},{"i":666,"v":-1.5},{"i":667,"v":-2.8},{"i":668,"v":-6.3},{"i":669,"v":-1.7},
{"i":670,"v":-3.2},{"i":671,"v":-2.0},{"i":672,"v":-0.8},{"i":673,"v":-3.9},{"i":674,"v":-2.6},{"i":675,"v":-1.2},{"i":676,"v":-4.4},{"i":677,"v":-2.3},{"i":678,"v":-3.5},{"i":679,"v":-1.9},
{"i":680,"v":-2.5},{"i":681,"v":-5.2},{"i":682,"v":-1.4},{"i":683,"v":-3.1},{"i":684,"v":-0.6},{"i":685,"v":-2.7},{"i":686,"v":-4.0},{"i":687,"v":-2.0},{"i":688,"v":-1.6},{"i":689,"v":-3.7},
{"i":690,"v":-2.9},{"i":691,"v":-7.6},{"i":692,"v":-1.3},{"i":693,"v":-2.4},{"i":694,"v":-3.3},{"i":695,"v":-0.9},{"i":696,"v":-2.1},{"i":697,"v":-4.8},{"i":698,"v":-1.8},{"i":699,"v":-3.0},
{"i":700,"v":-2.5},{"i":701,"v":-1.0},{"i":702,"v":-3.8},{"i":703,"v":-2.2},{"i":704,"v":-4.3},{"i":705,"v":-1.5},{"i":706,"v":-2.8},{"i":707,"v":-0.5},{"i":708,"v":-3.4},{"i":709,"v":-2.6},
{"i":710,"v":-5.6},{"i":711,"v":-1.7},{"i":712,"v":-2.3},{"i":713,"v":-3.6},{"i":714,"v":-1.2},{"i":715,"v":-2.9},{"i":716,"v":-4.1},{"i":717,"v":-2.0},{"i":718,"v":-0.8},{"i":719,"v":-3.2},
{"i":720,"v":-2.4},{"i":721,"v":-6.0},{"i":722,"v":-1.4},{"i":723,"v":-2.7},{"i":724,"v":-3.5},{"i":725,"v":-1.9},{"i":726,"v":-0.6},{"i":727,"v":-4.5},{"i":728,"v":-2.1},{"i":729,"v":-3.0},
{"i":730,"v":-1.6},{"i":731,"v":-2.5},{"i":732,"v":-5.0},{"i":733,"v":-1.1},{"i":734,"v":-3.7},{"i":735,"v":-2.8},{"i":736,"v":-0.9},{"i":737,"v":-3.3},{"i":738,"v":-2.2},{"i":739,"v":-4.2},
{"i":740,"v":-1.5},{"i":741,"v":-2.6},{"i":742,"v":-7.1},{"i":743,"v":-1.8},{"i":744,"v":-3.1},{"i":745,"v":-2.4},{"i":746,"v":-0.4},{"i":747,"v":-3.9},{"i":748,"v":-2.0},{"i":749,"v":-1.3},
{"i":750,"v":-4.6},{"i":751,"v":-2.7},{"i":752,"v":-3.4},{"i":753,"v":-1.0},{"i":754,"v":-2.3},{"i":755,"v":-5.3},{"i":756,"v":-1.7},{"i":757,"v":-2.9},{"i":758,"v":-0.7},{"i":759,"v":-3.6},
{"i":760,"v":-2.5},{"i":761,"v":-1.4},{"i":762,"v":-4.0},{"i":763,"v":-2.1},{"i":764,"v":-3.2},{"i":765,"v":-1.8},{"i":766,"v":-6.4},{"i":767,"v":-2.6},{"i":768,"v":-0.9},{"i":769,"v":-3.5},
{"i":770,"v":-2.2},{"i":771,"v":-1.5},{"i":772,"v":-4.4},{"i":773,"v":-2.8},{"i":774,"v":-1.1},{"i":775,"v":-3.3},{"i":776,"v":-2.0},{"i":777,"v":-0.6},{"i":778,"v":-3.8},{"i":779,"v":-2.4},
{"i":780,"v":-5.7},{"i":781,"v":-1.6},{"i":782,"v":-2.9},{"i":783,"v":-3.1},{"i":784,"v":-1.2},{"i":785,"v":-2.5},{"i":786,"v":-4.2},{"i":787,"v":-1.9},{"i":788,"v":-0.8},{"i":789,"v":-3.6},
{"i":790,"v":-2.3},{"i":791,"v":-6.1},{"i":792,"v":-1.4},{"i":793,"v":-2.7},{"i":794,"v":-3.4},{"i":795,"v":-1.7},{"i":796,"v":-2.1},{"i":797,"v":-4.9},{"i":798,"v":-2.6},{"i":799,"v":-3.0}
],
"gh": [
{"a":0.65,"b":0.75,"c":6},{"a":0.55,"b":0.65,"c":10},{"a":0.45,"b":0.55,"c":15},{"a":0.35,"b":0.45,"c":40},{"a":0.25,"b":0.35,"c":30},{"a":0.15,"b":0.25,"c":30},{"a":0.05,"b":0.15,"c":78},{"a":-0.05,"b":0.05,"c":111},
{"a":-0.15,"b":-0.05,"c":190},{"a":-0.25,"b":-0.15,"c":255},{"a":-0.35,"b":-0.25,"c":320},{"a":-0.45,"b":-0.35,"c":380},{"a":-0.55,"b":-0.45,"c":470},{"a":-0.65,"b":-0.55,"c":535},{"a":-0.75,"b":-0.65,"c":640},{"a":-0.85,"b":-0.75,"c":680},
{"a":-0.95,"b":-0.85,"c":780},{"a":-1.05,"b":-0.95,"c":850},{"a":-1.15,"b":-1.05,"c":900},{"a":-1.25,"b":-1.15,"c":980},{"a":-1.35,"b":-1.25,"c":1000},{"a":-1.45,"b":-1.35,"c":960},{"a":-1.55,"b":-1.45,"c":965},{"a":-1.65,"b":-1.55,"c":935},
{"a":-1.75,"b":-1.65,"c":975},{"a":-1.85,"b":-1.75,"c":955},{"a":-1.95,"b":-1.85,"c":985},{"a":-2.05,"b":-1.95,"c":962},{"a":-2.15,"b":-2.05,"c":942},{"a":-2.25,"b":-2.15,"c":955},{"a":-2.35,"b":-2.25,"c":905},{"a":-2.45,"b":-2.35,"c":885},
{"a":-2.55,"b":-2.45,"c":866},{"a":-2.65,"b":-2.55,"c":838},{"a":-2.75,"b":-2.65,"c":835},{"a":-2.85,"b":-2.75,"c":765},{"a":-2.95,"b":-2.85,"c":725},{"a":-3.05,"b":-2.95,"c":695},{"a":-3.15,"b":-3.05,"c":710},{"a":-3.25,"b":-3.15,"c":685},
{"a":-3.35,"b":-3.25,"c":610},{"a":-3.45,"b":-3.35,"c":565},{"a":-3.55,"b":-3.45,"c":530},{"a":-3.65,"b":-3.55,"c":495},{"a":-3.75,"b":-3.65,"c":450},{"a":-3.85,"b":-3.75,"c":395},{"a":-3.95,"b":-3.85,"c":375},{"a":-4.05,"b":-3.95,"c":335},
{"a":-4.15,"b":-4.05,"c":290},{"a":-4.25,"b":-4.15,"c":255},{"a":-4.35,"b":-4.25,"c":238},{"a":-4.45,"b":-4.35,"c":210},{"a":-4.55,"b":-4.45,"c":180},{"a":-4.65,"b":-4.55,"c":160},{"a":-4.75,"b":-4.65,"c":140},{"a":-4.85,"b":-4.75,"c":115},
{"a":-4.95,"b":-4.85,"c":95},{"a":-5.05,"b":-4.95,"c":80},{"a":-5.15,"b":-5.05,"c":52},{"a":-5.25,"b":-5.15,"c":45},{"a":-5.35,"b":-5.25,"c":38},{"a":-5.45,"b":-5.35,"c":28},{"a":-5.55,"b":-5.45,"c":20},{"a":-5.65,"b":-5.55,"c":12},
{"a":-5.75,"b":-5.65,"c":8},{"a":-5.85,"b":-5.75,"c":5}
],
"hh": [
{"a":0.85,"b":0.95,"c":2},{"a":0.75,"b":0.85,"c":6},{"a":0.65,"b":0.75,"c":10},{"a":0.55,"b":0.65,"c":15},{"a":0.45,"b":0.55,"c":21},{"a":0.35,"b":0.45,"c":40},{"a":0.25,"b":0.35,"c":73},{"a":0.15,"b":0.25,"c":86},
{"a":0.05,"b":0.15,"c":101},{"a":-0.05,"b":0.05,"c":139},{"a":-0.15,"b":-0.05,"c":174},{"a":-0.25,"b":-0.15,"c":216},{"a":-0.35,"b":-0.25,"c":254},{"a":-0.45,"b":-0.35,"c":317},{"a":-0.55,"b":-0.45,"c":391},{"a":-0.65,"b":-0.55,"c":502},
{"a":-0.75,"b":-0.65,"c":553},{"a":-0.85,"b":-0.75,"c":683},{"a":-0.95,"b":-0.85,"c":746},{"a":-1.05,"b":-0.95,"c":788},{"a":-1.15,"b":-1.05,"c":937},{"a":-1.25,"b":-1.15,"c":903},{"a":-1.35,"b":-1.25,"c":1000},{"a":-1.45,"b":-1.35,"c":975},
{"a":-1.55,"b":-1.45,"c":975},{"a":-1.65,"b":-1.55,"c":960},{"a":-1.75,"b":-1.65,"c":969},{"a":-1.85,"b":-1.75,"c":950},{"a":-1.95,"b":-1.85,"c":975},{"a":-2.05,"b":-1.95,"c":941},{"a":-2.15,"b":-2.05,"c":903},{"a":-2.25,"b":-2.15,"c":989},
{"a":-2.35,"b":-2.25,"c":908},{"a":-2.45,"b":-2.35,"c":874},{"a":-2.55,"b":-2.45,"c":836},{"a":-2.65,"b":-2.55,"c":821},{"a":-2.75,"b":-2.65,"c":798},{"a":-2.85,"b":-2.75,"c":763},{"a":-2.95,"b":-2.85,"c":725},{"a":-3.05,"b":-2.95,"c":679},
{"a":-3.15,"b":-3.05,"c":670},{"a":-3.25,"b":-3.15,"c":674},{"a":-3.35,"b":-3.25,"c":597},{"a":-3.45,"b":-3.35,"c":582},{"a":-3.55,"b":-3.45,"c":460},{"a":-3.65,"b":-3.55,"c":454},{"a":-3.75,"b":-3.65,"c":594},{"a":-3.85,"b":-3.75,"c":445},
{"a":-3.95,"b":-3.85,"c":492},{"a":-4.05,"b":-3.95,"c":422},{"a":-4.15,"b":-4.05,"c":406},{"a":-4.25,"b":-4.15,"c":372},{"a":-4.35,"b":-4.25,"c":334},{"a":-4.45,"b":-4.35,"c":302},{"a":-4.55,"b":-4.45,"c":336},{"a":-4.65,"b":-4.55,"c":282},
{"a":-4.75,"b":-4.65,"c":231},{"a":-4.85,"b":-4.75,"c":216},{"a":-4.95,"b":-4.85,"c":197},{"a":-5.05,"b":-4.95,"c":177},{"a":-5.15,"b":-5.05,"c":168},{"a":-5.25,"b":-5.15,"c":158},{"a":-5.35,"b":-5.25,"c":111},{"a":-5.45,"b":-5.35,"c":130},
{"a":-5.55,"b":-5.45,"c":116},{"a":-5.65,"b":-5.55,"c":97},{"a":-5.75,"b":-5.65,"c":82},{"a":-5.85,"b":-5.75,"c":101},{"a":-5.95,"b":-5.85,"c":78},{"a":-6.05,"b":-5.95,"c":53},{"a":-6.15,"b":-6.05,"c":44},{"a":-6.25,"b":-6.15,"c":53},
{"a":-6.35,"b":-6.25,"c":44},{"a":-6.45,"b":-6.35,"c":36},{"a":-6.55,"b":-6.45,"c":38},{"a":-6.65,"b":-6.55,"c":25},{"a":-6.75,"b":-6.65,"c":21},{"a":-6.85,"b":-6.75,"c":25},{"a":-6.95,"b":-6.85,"c":15},{"a":-7.05,"b":-6.95,"c":15},
{"a":-7.15,"b":-7.05,"c":19},{"a":-7.25,"b":-7.15,"c":10},{"a":-7.35,"b":-7.25,"c":15},{"a":-7.45,"b":-7.35,"c":6},{"a":-7.55,"b":-7.45,"c":6},{"a":-7.65,"b":-7.55,"c":8},{"a":-7.75,"b":-7.65,"c":2},{"a":-7.85,"b":-7.75,"c":2},
{"a":-7.95,"b":-7.85,"c":2},{"a":-8.05,"b":-7.95,"c":1}
],
"mh": [
{"a":0.85,"b":0.95,"c":2},{"a":0.75,"b":0.85,"c":6},{"a":0.65,"b":0.75,"c":12},{"a":0.55,"b":0.65,"c":16},{"a":0.45,"b":0.55,"c":21},{"a":0.35,"b":0.45,"c":32},{"a":0.25,"b":0.35,"c":45},{"a":0.15,"b":0.25,"c":78},
{"a":0.05,"b":0.15,"c":120},{"a":-0.05,"b":0.05,"c":160},{"a":-0.15,"b":-0.05,"c":188},{"a":-0.25,"b":-0.15,"c":225},{"a":-0.35,"b":-0.25,"c":290},{"a":-0.45,"b":-0.35,"c":360},{"a":-0.55,"b":-0.45,"c":400},{"a":-0.65,"b":-0.55,"c":470},
{"a":-0.75,"b":-0.65,"c":570},{"a":-0.85,"b":-0.75,"c":700},{"a":-0.95,"b":-0.85,"c":750},{"a":-1.05,"b":-0.95,"c":790},{"a":-1.15,"b":-1.05,"c":840},{"a":-1.25,"b":-1.15,"c":910},{"a":-1.35,"b":-1.25,"c":960},{"a":-1.45,"b":-1.35,"c":960},
{"a":-1.55,"b":-1.45,"c":930},{"a":-1.65,"b":-1.55,"c":962},{"a":-1.75,"b":-1.65,"c":960},{"a":-1.85,"b":-1.75,"c":983},{"a":-1.95,"b":-1.85,"c":1000},{"a":-2.05,"b":-1.95,"c":990},{"a":-2.15,"b":-2.05,"c":940},{"a":-2.25,"b":-2.15,"c":890},
{"a":-2.35,"b":-2.25,"c":875},{"a":-2.45,"b":-2.35,"c":835},{"a":-2.55,"b":-2.45,"c":810},{"a":-2.65,"b":-2.55,"c":785},{"a":-2.75,"b":-2.65,"c":725},{"a":-2.85,"b":-2.75,"c":780},{"a":-2.95,"b":-2.85,"c":690},{"a":-3.05,"b":-2.95,"c":660},
{"a":-3.15,"b":-3.05,"c":640},{"a":-3.25,"b":-3.15,"c":655},{"a":-3.35,"b":-3.25,"c":630},{"a":-3.45,"b":-3.35,"c":595},{"a":-3.55,"b":-3.45,"c":575},{"a":-3.65,"b":-3.55,"c":520},{"a":-3.75,"b":-3.65,"c":475},{"a":-3.85,"b":-3.75,"c":462},
{"a":-3.95,"b":-3.85,"c":450},{"a":-4.05,"b":-3.95,"c":420},{"a":-4.15,"b":-4.05,"c":355},{"a":-4.25,"b":-4.15,"c":345},{"a":-4.35,"b":-4.25,"c":305},{"a":-4.45,"b":-4.35,"c":288},{"a":-4.55,"b":-4.45,"c":280},{"a":-4.65,"b":-4.55,"c":225},
{"a":-4.75,"b":-4.65,"c":220},{"a":-4.85,"b":-4.75,"c":245},{"a":-4.95,"b":-4.85,"c":216},{"a":-5.05,"b":-4.95,"c":235},{"a":-5.15,"b":-5.05,"c":187},{"a":-5.25,"b":-5.15,"c":168},{"a":-5.35,"b":-5.25,"c":158},{"a":-5.45,"b":-5.35,"c":116},
{"a":-5.55,"b":-5.45,"c":101},{"a":-5.65,"b":-5.55,"c":92},{"a":-5.75,"b":-5.65,"c":78},{"a":-5.85,"b":-5.75,"c":92},{"a":-5.95,"b":-5.85,"c":101},{"a":-6.05,"b":-5.95,"c":69},{"a":-6.15,"b":-6.05,"c":53},{"a":-6.25,"b":-6.15,"c":49},
{"a":-6.35,"b":-6.25,"c":44},{"a":-6.45,"b":-6.35,"c":32},{"a":-6.55,"b":-6.45,"c":25},{"a":-6.65,"b":-6.55,"c":25},{"a":-6.75,"b":-6.65,"c":17},{"a":-6.85,"b":-6.75,"c":17},{"a":-6.95,"b":-6.85,"c":15},{"a":-7.05,"b":-6.95,"c":11},
{"a":-7.15,"b":-7.05,"c":10},{"a":-7.25,"b":-7.15,"c":6},{"a":-7.35,"b":-7.25,"c":6},{"a":-7.45,"b":-7.35,"c":8},{"a":-7.55,"b":-7.45,"c":6},{"a":-7.65,"b":-7.55,"c":4},{"a":-7.75,"b":-7.65,"c":8},{"a":-7.85,"b":-7.75,"c":2},
{"a":-7.95,"b":-7.85,"c":1}
]
},
"vconcat": [
{"hconcat": [
  {"title": "Gibbs sampler, traceplot and histogram", "width": 774, "height": 155, "data": {"name": "gibbs"},
   "mark": {"type": "line", "color": "#1f77b4", "strokeWidth": 1.2},
   "encoding": {
     "x": {"field": "i", "type": "quantitative", "axis": null, "scale": {"domain": [0, 499], "nice": false, "zero": false}},
     "y": {"field": "v", "type": "quantitative", "scale": {"domain": [-8.44, 0.96], "nice": false, "zero": false}, "axis": {"title": "Value of ηd1", "values": [-7.5, -5, -2.5, 0], "format": ".1f"}}}},
  {"width": 175, "height": 155, "view": {"stroke": null}, "layer": [
    {"data": {"name": "gh"}, "mark": {"type": "rect", "color": "#1f77b4", "stroke": "#1f77b4", "strokeWidth": 0.6},
     "encoding": {"x": {"field": "c", "type": "quantitative", "axis": null, "scale": {"domain": [0, 1000], "nice": false}}, "x2": {"datum": 0},
       "y": {"field": "a", "type": "quantitative", "axis": null, "scale": {"domain": [-8.44, 0.96], "nice": false, "zero": false}}, "y2": {"field": "b"}}},
    {"data": {"values": [{}]}, "mark": {"type": "rule", "color": "#1f77b4", "strokeWidth": 1}, "encoding": {"x": {"datum": 0}}}
  ]}
 ], "spacing": 6},
{"hconcat": [
  {"title": "HMC-within-Gibbs, traceplot and histogram", "width": 774, "height": 155, "data": {"name": "hwg"},
   "mark": {"type": "line", "color": "#1f77b4", "strokeWidth": 1.2},
   "encoding": {
     "x": {"field": "i", "type": "quantitative", "axis": null, "scale": {"domain": [0, 399], "nice": false, "zero": false}},
     "y": {"field": "v", "type": "quantitative", "scale": {"domain": [-8.44, 0.96], "nice": false, "zero": false}, "axis": {"title": "Value of ηd1", "values": [-7.5, -5, -2.5, 0], "format": ".1f"}}}},
  {"width": 175, "height": 155, "view": {"stroke": null}, "layer": [
    {"data": {"name": "hh"}, "mark": {"type": "rect", "color": "#1f77b4", "stroke": "#1f77b4", "strokeWidth": 0.6},
     "encoding": {"x": {"field": "c", "type": "quantitative", "axis": null, "scale": {"domain": [0, 1000], "nice": false}}, "x2": {"datum": 0},
       "y": {"field": "a", "type": "quantitative", "axis": null, "scale": {"domain": [-8.44, 0.96], "nice": false, "zero": false}}, "y2": {"field": "b"}}},
    {"data": {"values": [{}]}, "mark": {"type": "rule", "color": "#1f77b4", "strokeWidth": 1}, "encoding": {"x": {"datum": 0}}}
  ]}
 ], "spacing": 6},
{"hconcat": [
  {"title": "M-HMC, traceplot and histogram", "width": 774, "height": 155, "data": {"name": "mhmc"},
   "mark": {"type": "line", "color": "#1f77b4", "strokeWidth": 1.2},
   "encoding": {
     "x": {"field": "i", "type": "quantitative", "axis": null, "scale": {"domain": [0, 799], "nice": false, "zero": false}},
     "y": {"field": "v", "type": "quantitative", "scale": {"domain": [-8.44, 0.96], "nice": false, "zero": false}, "axis": {"title": "Value of ηd1", "values": [-7.5, -5, -2.5, 0], "format": ".1f"}}}},
  {"width": 175, "height": 155, "view": {"stroke": null}, "layer": [
    {"data": {"name": "mh"}, "mark": {"type": "rect", "color": "#1f77b4", "stroke": "#1f77b4", "strokeWidth": 0.6},
     "encoding": {"x": {"field": "c", "type": "quantitative", "axis": null, "scale": {"domain": [0, 1000], "nice": false}}, "x2": {"datum": 0},
       "y": {"field": "a", "type": "quantitative", "axis": null, "scale": {"domain": [-8.44, 0.96], "nice": false, "zero": false}}, "y2": {"field": "b"}}},
    {"data": {"values": [{}]}, "mark": {"type": "rule", "color": "#1f77b4", "strokeWidth": 1}, "encoding": {"x": {"datum": 0}}}
  ]}
 ], "spacing": 6}
]
}
